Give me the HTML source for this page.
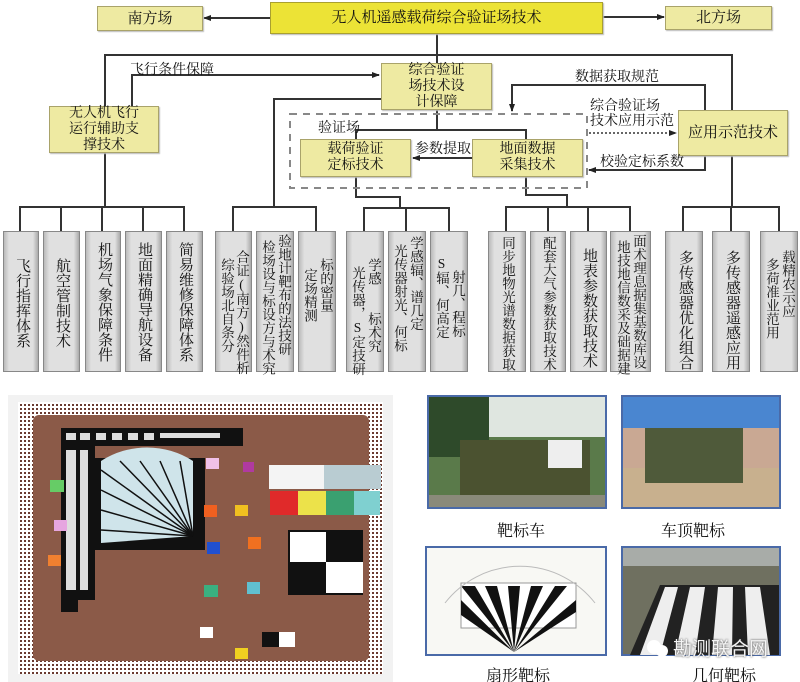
<!DOCTYPE html>
<html><head><meta charset="utf-8"><style>
body{margin:0;background:#fff;}
#w{position:relative;width:800px;height:682px;overflow:hidden;background:#fff;font-family:"Liberation Serif","Noto Serif CJK SC","Noto Sans CJK SC",serif;color:#111;}
.b{position:absolute;box-sizing:border-box;background:#eeeaa2;border:1px solid #a9a36a;box-shadow:1px 1px 1px #bbb;display:flex;align-items:center;justify-content:center;text-align:center;font-size:14px;line-height:16px;}
.v{position:absolute;top:231px;height:141px;box-sizing:border-box;background:linear-gradient(90deg,#bbb,#e0e0e0 15%,#e0e0e0 85%,#aaa);border:1px solid #888;}
.c{position:absolute;writing-mode:vertical-rl;text-orientation:upright;font-size:15px;line-height:15px;white-space:nowrap;height:auto;}
.t{font-size:13.5px;line-height:15px;}
.l{position:absolute;font-size:14px;white-space:nowrap;}
.cap{position:absolute;font-size:16px;white-space:nowrap;}
</style></head><body><div id="w">
<svg width="800" height="682" style="position:absolute;left:0;top:0">
<defs><marker id="a" markerWidth="8" markerHeight="8" refX="7" refY="4" orient="auto" markerUnits="userSpaceOnUse"><path d="M0,1 L8,4 L0,7z" fill="#222"/></marker></defs>
<g stroke="#333" stroke-width="2" fill="none">
<line x1="270" y1="18" x2="204" y2="18" marker-end="url(#a)"/>
<line x1="602" y1="17" x2="664" y2="17" marker-end="url(#a)"/>
<line x1="437" y1="33" x2="437" y2="63"/>
<polyline points="105,106 105,55 732,55 732,110"/>
<polyline points="132,106 132,75 379,75" marker-end="url(#a)"/>
<polyline points="381,99 274,99 274,207"/>
<polyline points="437,110 437,130 526,130 526,139"/>
<polyline points="356,139 356,130 437,130"/>
<line x1="472" y1="158" x2="413" y2="158" marker-end="url(#a)"/>
<polyline points="705,110 705,85 512,85 512,111" marker-end="url(#a)"/>
<polyline points="705,155 705,170 589,170" marker-end="url(#a)"/>
<polyline points="105,152 105,207"/>
<polyline points="20,231 20,207 184,207 184,231"/><line x1="61" y1="207" x2="61" y2="231"/><line x1="102" y1="207" x2="102" y2="231"/><line x1="143" y1="207" x2="143" y2="231"/>
<polyline points="233,231 233,207 316,207 316,231"/>
<polyline points="356,177 356,197 400,197 400,208"/>
<polyline points="364,231 364,208 449,208 449,231"/><line x1="406" y1="208" x2="406" y2="231"/>
<polyline points="526,177 526,195 567,195 567,207"/>
<polyline points="506,231 506,207 630,207 630,231"/><line x1="548" y1="207" x2="548" y2="231"/><line x1="588" y1="207" x2="588" y2="231"/>
<polyline points="732,155 732,207"/>
<polyline points="683,231 683,207 779,207 779,231"/><line x1="731" y1="207" x2="731" y2="231"/>
</g>
<rect x="290" y="114" width="297" height="74" fill="none" stroke="#888" stroke-width="2" stroke-dasharray="7,6"/>
<line x1="589" y1="133" x2="676" y2="133" stroke="#333" stroke-width="1.5" stroke-dasharray="2,2" marker-end="url(#a)"/>
</svg>
<div class="b" style="left:97px;top:6px;width:106px;height:25px;font-size:15px">南方场</div>
<div class="b" style="left:270px;top:2px;width:333px;height:32px;background:#ece336;border-color:#a9a030;font-size:15px">无人机遥感载荷综合验证场技术</div>
<div class="b" style="left:665px;top:6px;width:107px;height:24px;font-size:15px">北方场</div>
<div class="b" style="left:381px;top:63px;width:111px;height:47px">综合验证<br>场技术设<br>计保障</div>
<div class="b" style="left:49px;top:106px;width:110px;height:47px">无人机飞行<br>运行辅助支<br>撑技术</div>
<div class="b" style="left:678px;top:110px;width:110px;height:46px;font-size:15px">应用示范技术</div>
<div class="b" style="left:300px;top:139px;width:111px;height:38px">载荷验证<br>定标技术</div>
<div class="b" style="left:472px;top:139px;width:111px;height:38px">地面数据<br>采集技术</div>
<div class="l" style="left:130px;top:59px">飞行条件保障</div>
<div class="l" style="left:318px;top:117px">验证场</div>
<div class="l" style="left:415px;top:138px">参数提取</div>
<div class="l" style="left:575px;top:66px">数据获取规范</div>
<div class="l" style="left:590px;top:99px;line-height:15px">综合验证场<br>技术应用示范</div>
<div class="l" style="left:600px;top:151px">校验定标系数</div>

<div class="v" style="left:3px;width:36px"><span class="c" style="left:10px;top:26px">飞行指挥体系</span></div>
<div class="v" style="left:43px;width:37px"><span class="c" style="left:10px;top:26px">航空管制技术</span></div>
<div class="v" style="left:85px;width:36px"><span class="c" style="left:10px;top:10px">机场气象保障条件</span></div>
<div class="v" style="left:125px;width:37px"><span class="c" style="left:10px;top:10px">地面精确导航设备</span></div>
<div class="v" style="left:166px;width:37px"><span class="c" style="left:10px;top:10px">简易维修保障体系</span></div>
<div class="v" style="left:215px;width:37px"><span class="c t" style="left:3px;top:26px">综验场北自条分</span><span class="c t" style="left:18px;top:18px">合证(南方)然件析</span></div>
<div class="v" style="left:256px;width:38px"><span class="c t" style="left:3px;top:8px">检场设与标设方与术究</span><span class="c t" style="left:19px;top:2px">验地计靶布的法技研</span></div>
<div class="v" style="left:298px;width:38px"><span class="c t" style="left:3px;top:36px">定场精测</span><span class="c t" style="left:19px;top:26px">标的密量</span></div>
<div class="v" style="left:346px;width:38px"><span class="c t" style="left:3px;top:34px">光传器，S定技研</span><span class="c t" style="left:19px;top:26px">学感　　标术究</span></div>
<div class="v" style="left:388px;width:38px"><span class="c t" style="left:3px;top:12px">光传器射光、何标</span><span class="c t" style="left:19px;top:4px">学感辐、谱几定</span></div>
<div class="v" style="left:430px;width:38px"><span class="c t" style="left:3px;top:24px">S辐、何高定</span><span class="c t" style="left:19px;top:38px">射几、程标</span></div>
<div class="v" style="left:488px;width:38px"><span class="c t" style="left:11px;top:4px">同步地物光谱数据获取</span></div>
<div class="v" style="left:530px;width:36px"><span class="c t" style="left:10px;top:4px">配套大气参数获取技术</span></div>
<div class="v" style="left:570px;width:37px"><span class="c" style="left:10px;top:16px">地表参数获取技术</span></div>
<div class="v" style="left:610px;width:41px"><span class="c t" style="left:4px;top:8px">地技地信数采及础据建</span><span class="c t" style="left:20px;top:2px">面术理息据集基数库设</span></div>
<div class="v" style="left:665px;width:38px"><span class="c" style="left:11px;top:18px">多传感器优化组合</span></div>
<div class="v" style="left:712px;width:38px"><span class="c" style="left:11px;top:18px">多传感器遥感应用</span></div>
<div class="v" style="left:760px;width:38px"><span class="c t" style="left:3px;top:26px">多荷准业范用</span><span class="c t" style="left:19px;top:18px">载精农示应</span></div>

<svg width="800" height="682" style="position:absolute;left:0;top:0">
<defs><pattern id="dots" width="4" height="4" patternUnits="userSpaceOnUse"><rect width="4" height="4" fill="#fff"/><rect width="2" height="2" fill="#6a3a30"/></pattern></defs>
<rect x="8" y="395" width="385" height="287" fill="#f2f2f2"/>
<rect x="18" y="402" width="365" height="272" fill="url(#dots)"/>
<rect x="33" y="415" width="336" height="246" rx="6" fill="#8b5a48"/>
<path d="M61,428 H243 V446 H95 V600 H78 V612 H61Z" fill="#111"/>
<rect x="95" y="458" width="110" height="92" fill="#111"/>
<path d="M101,543 L101,461 A85,85 0 0 1 193,461 L193,536Z" fill="#cfe4ea"/>
<g stroke="#111" stroke-width="1.5"><line x1="193" y1="536" x2="101" y2="470"/><line x1="193" y1="536" x2="101" y2="490"/><line x1="193" y1="536" x2="101" y2="510"/><line x1="193" y1="536" x2="101" y2="530"/><line x1="193" y1="536" x2="120" y2="461"/><line x1="193" y1="536" x2="140" y2="461"/><line x1="193" y1="536" x2="160" y2="461"/><line x1="193" y1="536" x2="180" y2="461"/></g>
<g fill="#ddd"><rect x="66" y="433" width="10" height="7"/><rect x="80" y="433" width="10" height="7"/><rect x="96" y="433" width="10" height="7"/><rect x="112" y="433" width="10" height="7"/><rect x="128" y="433" width="10" height="7"/><rect x="144" y="433" width="10" height="7"/><rect x="160" y="433" width="60" height="5"/><rect x="66" y="450" width="10" height="140"/><rect x="80" y="450" width="8" height="140"/></g>
<rect x="269" y="465" width="112" height="24" fill="#f4f4f4"/><rect x="324" y="465" width="57" height="24" fill="#b9ccd2"/>
<rect x="270" y="491" width="28" height="24" fill="#e02a2a"/><rect x="298" y="491" width="28" height="24" fill="#ece24a"/><rect x="326" y="491" width="28" height="24" fill="#3aa070"/><rect x="354" y="491" width="26" height="24" fill="#7fd0d0"/>
<rect x="288" y="530" width="75" height="65" fill="#111"/><rect x="290" y="532" width="36" height="30" fill="#fff"/><rect x="326" y="562" width="37" height="31" fill="#fff"/>
<rect x="262" y="632" width="17" height="15" fill="#111"/><rect x="279" y="632" width="16" height="15" fill="#fff"/>
<rect x="50" y="480" width="14" height="12" fill="#6c6"/><rect x="54" y="520" width="13" height="11" fill="#e6a6e0"/><rect x="48" y="555" width="13" height="11" fill="#f08030"/>
<rect x="206" y="458" width="13" height="11" fill="#f0c0e8"/><rect x="243" y="462" width="11" height="10" fill="#b03aa0"/>
<rect x="204" y="505" width="13" height="12" fill="#f06020"/><rect x="235" y="505" width="13" height="11" fill="#f0c020"/>
<rect x="207" y="542" width="13" height="12" fill="#2050d0"/><rect x="248" y="537" width="13" height="12" fill="#f07020"/>
<rect x="204" y="585" width="14" height="12" fill="#3ab080"/><rect x="247" y="582" width="13" height="12" fill="#60c0d0"/>
<rect x="200" y="627" width="13" height="11" fill="#fff"/><rect x="235" y="648" width="13" height="11" fill="#f0d020"/>
<rect x="428" y="396" width="178" height="112" fill="#5a7a4a" stroke="#4a6aa8" stroke-width="2"/>
<rect x="429" y="397" width="176" height="40" fill="#dfe6e0"/><rect x="429" y="397" width="60" height="60" fill="#2e4a2a"/>
<rect x="460" y="440" width="130" height="55" fill="#4b5230"/><rect x="548" y="440" width="34" height="28" fill="#eee"/><rect x="429" y="495" width="176" height="12" fill="#8a8a7a"/>
<rect x="622" y="396" width="158" height="112" fill="#4a86d0" stroke="#4a6aa8" stroke-width="2"/>
<rect x="623" y="428" width="156" height="40" fill="#c9a893"/><rect x="623" y="468" width="156" height="39" fill="#c8b08e"/>
<rect x="645" y="428" width="98" height="55" fill="#4f5a3a"/>
<rect x="426" y="547" width="180" height="108" fill="#f8f8f4" stroke="#4a6aa8" stroke-width="2"/>
<rect x="461" y="583" width="115" height="45" fill="#fff" stroke="#999"/>
<g fill="#111"><path d="M514,652 L461,586 L475,586Z M514,652 L485,586 L497,586Z M514,652 L508,586 L520,586Z M514,652 L531,586 L543,586Z M514,652 L555,586 L567,586Z M514,652 L576,600 L576,612Z"/><path d="M514,652 L461,600 L461,615Z"/></g>
<path d="M445,603 A95,95 0 0 1 595,603" fill="none" stroke="#bbb"/>
<rect x="622" y="547" width="158" height="108" fill="#6f7060" stroke="#4a6aa8" stroke-width="2"/>
<rect x="623" y="548" width="156" height="18" fill="#a8aca8"/>
<path d="M630,655 L660,585 L779,585 L779,655Z" fill="#222"/>
<g fill="#eee"><path d="M640,655 L665,587 L678,587 L660,655Z M675,655 L690,587 L705,587 L695,655Z M712,655 L718,587 L733,587 L732,655Z M748,655 L745,587 L760,587 L770,655Z"/></g>
<circle cx="654" cy="647" r="7" fill="#fff"/><circle cx="662" cy="651" r="6" fill="#fff"/>
</svg>
<div class="cap" style="left:497px;top:518px">靶标车</div>
<div class="cap" style="left:661px;top:518px">车顶靶标</div>
<div class="cap" style="left:486px;top:663px">扇形靶标</div>
<div class="cap" style="left:692px;top:663px">几何靶标</div>
<div class="cap" style="left:673px;top:634px;color:#f4f4f4;font-family:'Liberation Sans','Noto Sans CJK SC',sans-serif;font-size:19px;text-shadow:0 0 2px #333">勘测联合网</div>
</div></body></html>
